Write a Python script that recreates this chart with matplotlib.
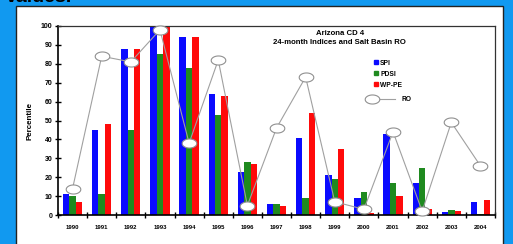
import numpy as np
import matplotlib
matplotlib.use("Agg")
import matplotlib.pyplot as plt
from matplotlib.patches import Rectangle
from matplotlib.lines import Line2D
from matplotlib.path import Path
from matplotlib.legend_handler import HandlerBase

years = ["1990", "1991", "1992", "1993", "1994", "1995", "1996", "1997",
         "1998", "1999", "2000", "2001", "2002", "2003", "2004"]
spi = [11, 45, 88, 100, 94, 64, 23, 6, 41, 21, 9, 43, 17, 1.5, 7]
pdsi = [10, 11, 45, 85, 78, 53, 28, 6, 9, 19, 12, 17, 25, 2.5, 0.5]
wppe = [7, 48, 88, 100, 94, 63, 27, 5, 54, 35, 1, 10, 3, 2, 8]
ro = [14, 84, 81, 98, 38, 82, 5, 46, 73, 7, 3, 44, 2, 49, 26]

plt.rcParams['font.family'] = ['Liberation Sans', 'DejaVu Sans']

fig = plt.figure(figsize=(5.13, 2.44), dpi=100)
fig.patch.set_facecolor('#1199f0')

# white panel
panel = Rectangle((16/513, -0.05), (503-16)/513, (244-6)/244 + 0.05,
                  transform=fig.transFigure, facecolor='white',
                  edgecolor='#222222', linewidth=1.0, zorder=-10)
fig.patches.append(panel)
fig.text(0.012, 1.012, "values.", fontsize=14, fontweight='bold',
         color='black', va='center', ha='left')

ax = fig.add_axes([58/513, (244-215)/244, (495-58)/513, (215-26)/244])
ax.set_facecolor('white')

x = np.arange(len(years))
w = 0.22
ax.bar(x - w, spi, w, color='#0a0aff', label='SPI', zorder=2)
ax.bar(x, pdsi, w, color='#1f8a1f', label='PDSI', zorder=2)
ax.bar(x + w, wppe, w, color='#ff0a0a', label='WP-PE', zorder=2)

t = np.linspace(0, 2*np.pi, 60)
ell = Path(np.column_stack([np.cos(t), 0.62*np.sin(t)]), closed=True)
mk_kw = dict(marker=ell, markersize=10.5, markerfacecolor='white',
             markeredgecolor='#909090', markeredgewidth=0.8)
ax.plot(x, ro, color='#a0a0a0', lw=0.8, zorder=3, clip_on=False, **mk_kw)

ax.set_xlim(-0.5, len(years) - 0.5)
ax.set_ylim(0, 100)
ax.set_yticks(np.arange(0, 101, 10))
ax.set_xticks(x)
ax.set_xticklabels(years, fontsize=4.3, fontweight='bold')
ax.set_xticks(np.arange(-0.5, len(years), 1.0), minor=True)
ax.tick_params(axis='x', which='major', length=0, pad=7)
ax.tick_params(axis='x', which='minor', length=4, width=1.0,
               direction='inout')
ax.tick_params(axis='y', which='major', length=4, width=1.0,
               direction='inout', labelsize=5, pad=2)
for lab in ax.get_yticklabels():
    lab.set_fontweight('bold')
ax.set_ylabel("Percentile", fontsize=5.8, fontweight='bold', labelpad=5)

for s in ['left', 'bottom']:
    ax.spines[s].set_linewidth(1.2)
    ax.spines[s].set_color('black')
for s in ['top', 'right']:
    ax.spines[s].set_linewidth(0.9)
    ax.spines[s].set_color('#333333')

ax.text(0.645, 0.98, "Arizona CD 4\n24-month Indices and Salt Basin RO",
        transform=ax.transAxes, ha='center', va='top', fontsize=5.6,
        fontweight='bold', linespacing=1.35)


class HandlerRO(HandlerBase):
    def create_artists(self, legend, orig_handle, xdescent, ydescent,
                       width, height, fontsize, trans):
        y = height / 2 - ydescent
        x0 = -xdescent
        xm = x0 + 0.28 * width
        line = Line2D([xm, x0 + width], [y, y], color='#a0a0a0', lw=0.8,
                      transform=trans)
        mk = Line2D([xm], [y], ls='none', transform=trans, **mk_kw)
        return [line, mk]


h1 = [Line2D([], [], marker='s', ls='none', color=c, markersize=3)
      for c in ['#0a0aff', '#1f8a1f', '#ff0a0a']]
leg1 = ax.legend(h1, ['SPI', 'PDSI', 'WP-PE'], loc='upper left',
                 bbox_to_anchor=(0.722, 0.822), frameon=False, fontsize=4.8,
                 handlelength=0.6, handletextpad=0.4, labelspacing=0.6,
                 borderpad=0, borderaxespad=0)
ax.add_artist(leg1)
h2 = [Line2D([], [], color='#a0a0a0')]
leg2 = ax.legend(h2, ['RO'], loc='upper left', bbox_to_anchor=(0.700, 0.628),
                 frameon=False, fontsize=4.8, handlelength=4.6,
                 handletextpad=1.0, borderpad=0, borderaxespad=0,
                 handler_map={Line2D: HandlerRO()})
for txt in leg1.get_texts() + leg2.get_texts():
    txt.set_fontweight('bold')

fig.savefig("out.png", dpi=100, facecolor=fig.get_facecolor())
